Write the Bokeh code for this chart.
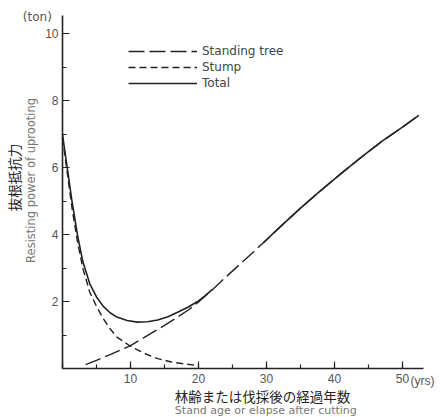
import math

from bokeh.plotting import figure
from bokeh.models import (Label, Legend, LegendItem, Range1d,
                          SingleIntervalTicker)
from bokeh.embed import file_html
from bokeh.resources import INLINE

# Uprooting resistance (ton) against stand age / years after cutting
total_x = [0, 0.7, 1.4, 2.2, 3.0, 4.0, 5.0, 6.0, 7.0, 8.0, 9.5, 11.0, 12.5,
           14.0, 15.5, 17.0, 18.5, 20.0, 21.0, 22.0,
           29.5, 32.0, 35.0, 38.0, 41.0, 44.0, 47.0, 50.0, 52.4]
total_y = [7.0, 6.0, 5.0, 4.0, 3.2, 2.55, 2.15, 1.87, 1.68, 1.55, 1.45, 1.40, 1.41,
           1.46, 1.56, 1.70, 1.85, 2.03, 2.19, 2.37,
           3.76, 4.24, 4.80, 5.33, 5.84, 6.33, 6.80, 7.22, 7.57]
# the solid line is interrupted where only the standing-tree dashes are drawn
total_gap_after = 22.0

standing_x = [3.4, 5.0, 7.0, 10.0, 12.9, 15.0, 17.0, 18.5, 20.0, 22.0, 24.0,
              26.0, 28.0, 29.5, 32.0, 35.0, 38.0, 41.0, 44.0, 47.0, 50.0, 52.4]
standing_y = [0.13, 0.26, 0.43, 0.70, 1.05, 1.30, 1.56, 1.76, 2.0, 2.36, 2.74,
              3.11, 3.48, 3.76, 4.24, 4.80, 5.33, 5.84, 6.33, 6.80, 7.22, 7.57]

stump_x = [0, 0.7, 1.4, 2.2, 3.0, 4.0, 5.0, 6.0, 7.0, 8.0, 10.0, 12.0, 14.0,
           16.0, 18.0, 20.0]
stump_y = [6.9, 5.85, 4.8, 3.8, 3.0, 2.3, 1.87, 1.5, 1.2, 0.95, 0.68, 0.47, 0.31,
           0.21, 0.15, 0.10]

x_labels = {0: "", 10: "10", 20: "20", 30: "30", 40: "40", 50: "50"}
y_labels = {0: "", 2: "2", 4: "4", 6: "6", 8: "8", 10: "10"}

X_END = 53.1     # length of the age axis
Y_END = 10.55    # length of the resistance axis

INK = "#222222"
GREY = "#555555"

# the frame fills the page; the axes sit at x = 0 and y = 0 inside it
p = figure(width=440, height=417, output_backend="svg", toolbar_location=None,
           x_range=Range1d(-9.118, 55.59), y_range=Range1d(-1.448, 11.0),
           min_border=0)
p.outline_line_color = None
p.grid.visible = False
p.background_fill_color = "white"
p.border_fill_color = "white"

# break the total line between the two solid stretches
tx, ty = [], []
for xv, yv in zip(total_x, total_y):
    tx.append(xv)
    ty.append(yv)
    if xv == total_gap_after:
        tx.append(math.nan)
        ty.append(math.nan)

r_stand = p.line(standing_x, standing_y, line_color=INK, line_width=1.4,
                 line_dash="16 5")
r_stump = p.line(stump_x, stump_y, line_color=INK, line_width=1.4,
                 line_dash="7 4")
r_total = p.line(tx, ty, line_color=INK, line_width=1.6)

for ax in (p.xaxis[0], p.yaxis[0]):
    ax.fixed_location = 0
    ax.axis_line_color = INK
    ax.axis_line_width = 1.6
    ax.major_tick_line_color = INK
    ax.minor_tick_line_color = INK
    ax.major_tick_line_width = 1.2
    ax.minor_tick_line_width = 1.2
    ax.major_tick_in = 7
    ax.major_tick_out = 0
    ax.minor_tick_in = 4
    ax.minor_tick_out = 0
    ax.major_label_text_font = "Liberation Sans"
    ax.major_label_text_font_size = "12px"
    ax.major_label_text_color = GREY

p.xaxis[0].bounds = (0, X_END)
p.yaxis[0].bounds = (0, Y_END)
p.xaxis[0].ticker = SingleIntervalTicker(interval=10, num_minor_ticks=2)
p.yaxis[0].ticker = SingleIntervalTicker(interval=2, num_minor_ticks=2)
p.xaxis[0].major_label_overrides = x_labels
p.yaxis[0].major_label_overrides = y_labels
p.xaxis[0].major_label_standoff = 5
p.yaxis[0].major_label_standoff = 4


def note(text, x, y, size, color, font="DejaVu Sans", angle=0.0,
         align="center", x_offset=0):
    p.add_layout(Label(x=x, y=y, text=text, text_font=font,
                       text_font_size=size, text_color=color, angle=angle,
                       text_align=align, text_baseline="middle",
                       x_offset=x_offset))


note("(ton)", -3.7, 10.52, "12px", GREY)
note("(yrs)", 50, -0.37, "12px", GREY, font="Liberation Sans",
     align="left", x_offset=8)
note("抜根抵抗力", -7.2, 5.72, "13.5px", INK, font="Noto Sans CJK JP",
     angle=math.pi / 2)
note("Resisting power of uprooting", -4.7, 5.63, "11.5px", "#777777",
     angle=math.pi / 2)
note("林齢または伐採後の経過年数", 29.4, -0.80, "13.5px", INK,
     font="Noto Sans CJK JP")
note("Stand age or elapse after cutting", 29.9, -1.25, "11px", "#777777")

legend = Legend(items=[LegendItem(label="Standing tree", renderers=[r_stand]),
                       LegendItem(label="Stump", renderers=[r_stump]),
                       LegendItem(label="Total", renderers=[r_total])],
                location=(128, 326), orientation="vertical",
                glyph_width=69, glyph_height=16, label_height=16,
                spacing=0, padding=0, margin=0, label_standoff=5,
                border_line_color=None, background_fill_alpha=0,
                label_text_font="DejaVu Sans", label_text_font_size="12px",
                label_text_color="#444444")
p.add_layout(legend, "center")

open("out.html", "w").write(file_html(p, INLINE))
